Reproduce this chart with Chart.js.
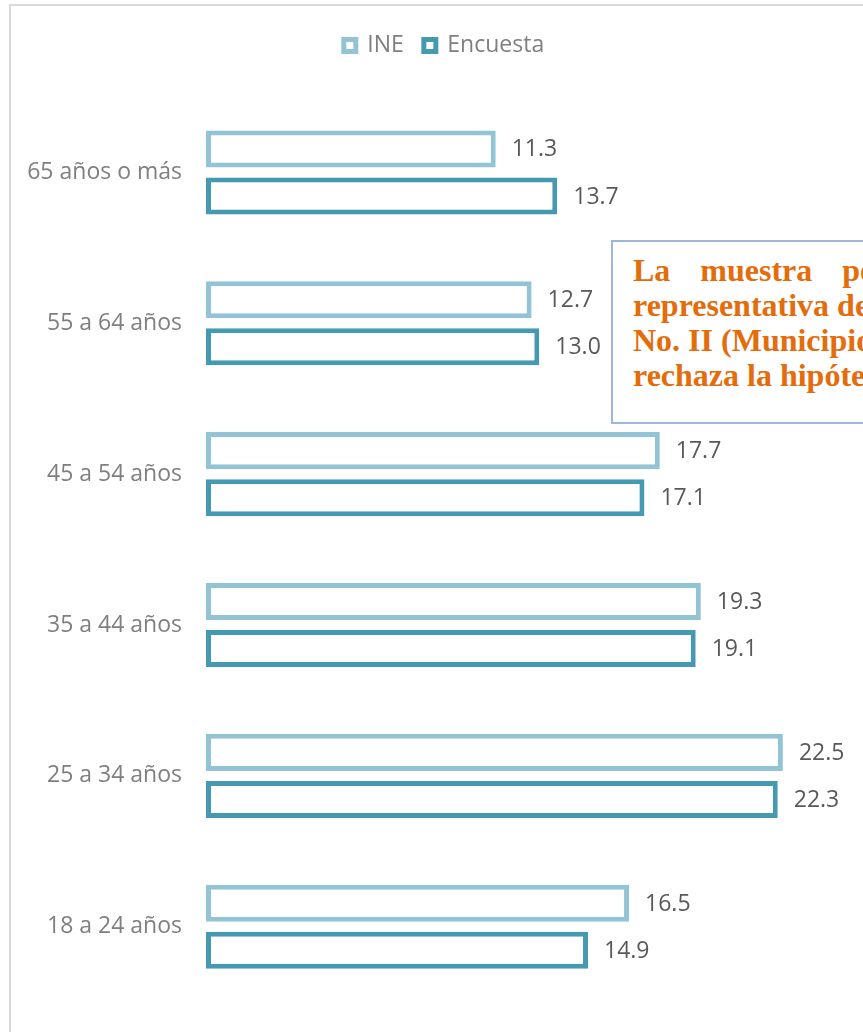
<!DOCTYPE html>
<html>
<head>
<meta charset="utf-8">
<script src="https://cdn.jsdelivr.net/npm/chart.js@4"></script>
<style>
  body { margin: 0; background: #fff; overflow: hidden; width: 863px; height: 1032px; position: relative; }
  #frame { position: absolute; left: 9px; top: 4px; width: 1000px; height: 1100px; border: 2px solid #d9d9d9; box-sizing: border-box; }
  #ageChart { position: absolute; left: 0; top: 0; }
  #note {
    position: absolute; left: 611px; top: 240px; width: 320px; height: 184px;
    border: 2px solid #9bb7d9; background: #fff; box-sizing: border-box;
    padding: 11px 0 0 20px; overflow: hidden;
    font: bold 32px "Liberation Serif", "Times New Roman", serif; line-height: 35px; color: #e46c0a;
  }
  #note div { white-space: nowrap; }
</style>
</head>
<body>
<div id="frame"></div>
<canvas id="ageChart" width="888" height="1040"></canvas>
<div id="note">
  <div style="word-spacing: 22px;">La muestra por edad</div>
  <div>representativa del</div>
  <div>No. II (Municipio</div>
  <div>rechaza la hipótesis</div>
</div>
<script>
const categories = ["65 años o más", "55 a 64 años", "45 a 54 años", "35 a 44 años", "25 a 34 años", "18 a 24 años"];
const ineValues = [11.3, 12.7, 17.7, 19.3, 22.5, 16.5];
const encuestaValues = [13.7, 13.0, 17.1, 19.1, 22.3, 14.9];

// extra room between legend and bars
const legendMargin = {
  id: "legendMargin",
  beforeInit(chart) {
    const fit = chart.legend.fit;
    chart.legend.fit = function () {
      fit.bind(chart.legend)();
      this.height += 30;
    };
  },
};

const barLabels = {
  id: "barLabels",
  afterDatasetsDraw(chart) {
    const ctx = chart.ctx;
    ctx.save();
    ctx.font = '23px "Open Sans"';
    ctx.fillStyle = "#595959";
    ctx.textAlign = "left";
    ctx.textBaseline = "middle";
    chart.data.datasets.forEach((ds, i) => {
      chart.getDatasetMeta(i).data.forEach((bar, j) => {
        ctx.fillText(ds.data[j].toFixed(1), bar.x + 16, bar.y + 1);
      });
    });
    ctx.restore();
  },
};

const ctx = document.getElementById("ageChart").getContext("2d");
const ageChart = new Chart(ctx, {
  type: "bar",
  data: {
    labels: categories,
    datasets: [
      {
        label: "INE",
        data: ineValues,
        backgroundColor: "#ffffff",
        borderColor: "#93c4d6",
        borderWidth: 5,
        borderSkipped: false,
        categoryPercentage: 0.624,
        barPercentage: 0.787,
      },
      {
        label: "Encuesta",
        data: encuestaValues,
        backgroundColor: "#ffffff",
        borderColor: "#4599b0",
        borderWidth: 5,
        borderSkipped: false,
        categoryPercentage: 0.624,
        barPercentage: 0.787,
      },
    ],
  },
  options: {
    indexAxis: "y",
    responsive: false,
    animation: false,
    devicePixelRatio: 1,
    layout: {
      padding: { top: 14, bottom: 28, left: 0, right: 0 },
    },
    plugins: {
      legend: {
        position: "top",
        labels: {
          boxWidth: 12,
          boxHeight: 12,
          padding: 20,
          color: "#7f7f7f",
          font: { family: "Open Sans", size: 23 },
        },
      },
      tooltip: { enabled: false },
    },
    scales: {
      x: {
        display: false,
        min: 0,
        max: 26.6,
      },
      y: {
        grid: { display: false, drawTicks: false },
        border: { display: false },
        ticks: {
          padding: 24,
          color: "#7f7f7f",
          font: { family: "Open Sans", size: 23 },
        },
        afterFit(scale) {
          scale.width = 206;
        },
      },
    },
  },
  plugins: [legendMargin, barLabels],
});
</script>
</body>
</html>
